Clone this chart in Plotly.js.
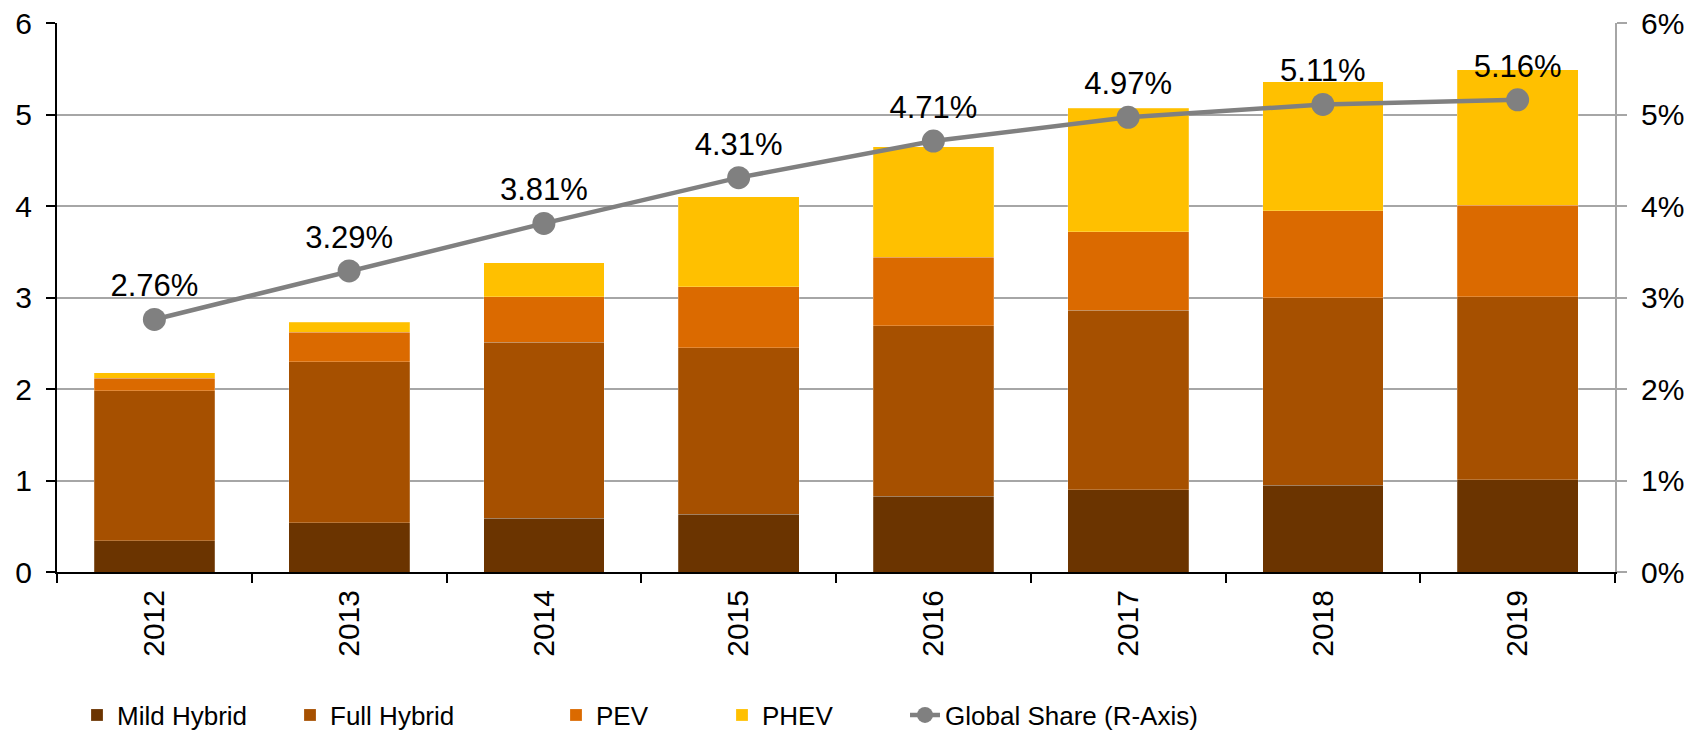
<!DOCTYPE html>
<html><head><meta charset="utf-8">
<script src="https://cdn.plot.ly/plotly-3.0.1.min.js"></script>
<style>html,body{margin:0;padding:0;background:#fff}#chart{width:1703px;height:732px}</style>
</head><body><div id="chart"></div>
<script>
const years = ['2012','2013','2014','2015','2016','2017','2018','2019'];
const mildHybrid = [0.34,0.54,0.59,0.63,0.83,0.90,0.95,1.01];
const fullHybrid = [1.64,1.76,1.92,1.82,1.86,1.96,2.05,2.00];
const pev = [0.14,0.32,0.50,0.67,0.75,0.86,0.95,1.00];
const phev = [0.06,0.11,0.37,0.98,1.21,1.35,1.41,1.48];
const globalShare = [2.76,3.29,3.81,4.31,4.71,4.97,5.11,5.16];

const seriesNames = ['Mild Hybrid','Full Hybrid','PEV','PHEV','Global Share (R-Axis)'];
const colors = ['#6B3400','#A65000','#DB6A00','#FFC000','#808080'];

const FONT = 'Liberation Sans, Arial, sans-serif';
const barSeries = [mildHybrid, fullHybrid, pev, phev];
const legendIds = ['legend','legend2','legend3','legend4','legend5'];

const traces = barSeries.map((vals, i) => ({
  type: 'bar', x: years, y: vals, name: seriesNames[i],
  marker: {color: colors[i], line: {width: 0.6, color: 'rgba(255,255,255,0.35)'}},
  legend: legendIds[i], hoverinfo: 'x+y+name'
}));
traces.push({
  type: 'scatter', mode: 'lines+markers+text', x: years, y: globalShare, yaxis: 'y2',
  name: seriesNames[4], legend: legendIds[4],
  line: {color: colors[4], width: 4.5},
  marker: {color: colors[4], size: 23},
  texttemplate: '%{y:.2f}%', textposition: 'top center',
  textfont: {family: FONT, size: 31, color: '#000'},
  cliponaxis: false
});

const legendX = [77, 290, 556, 722, 905];
const layout = {
  width: 1703, height: 732,
  margin: {l: 57, r: 88, t: 23, b: 160},
  paper_bgcolor: '#fff', plot_bgcolor: '#fff',
  font: {family: FONT, color: '#000'},
  barmode: 'stack', bargap: 0.38,
  showlegend: true,
  xaxis: {
    type: 'category', showline: true, linecolor: '#000', linewidth: 2,
    ticks: 'outside', tickson: 'boundaries', ticklen: 9, tickwidth: 2, tickcolor: '#000',
    tickangle: -90, tickfont: {size: 30, family: FONT, color: '#000'}, showgrid: false,
    ticklabelstandoff: 4
  },
  yaxis: {
    range: [0, 6], dtick: 1, showline: true, linecolor: '#000', linewidth: 2,
    ticks: 'outside', ticklen: 9, tickwidth: 2, tickcolor: '#000',
    gridcolor: '#a6a6a6', gridwidth: 1.5, zeroline: false,
    tickfont: {size: 30, family: FONT, color: '#000'}, ticklabelstandoff: 8
  },
  yaxis2: {
    overlaying: 'y', side: 'right', range: [0, 6], dtick: 1, ticksuffix: '%',
    showline: true, linecolor: '#a6a6a6', linewidth: 2,
    ticks: 'outside', ticklen: 10, tickwidth: 2, tickcolor: '#a6a6a6',
    showgrid: false, zeroline: false,
    tickfont: {size: 30, family: FONT, color: '#000'}, ticklabelstandoff: 8
  }
};
legendIds.forEach((id, i) => {
  layout[id] = {
    xref: 'container', yref: 'container',
    x: legendX[i] / 1703, y: 1 - 715 / 732, xanchor: 'left', yanchor: 'middle',
    orientation: 'h', bgcolor: 'rgba(0,0,0,0)',
    font: {family: FONT, size: 26, color: '#000'}
  };
});

Plotly.newPlot('chart', traces, layout, {displayModeBar: false, responsive: false});
</script>
</body></html>
